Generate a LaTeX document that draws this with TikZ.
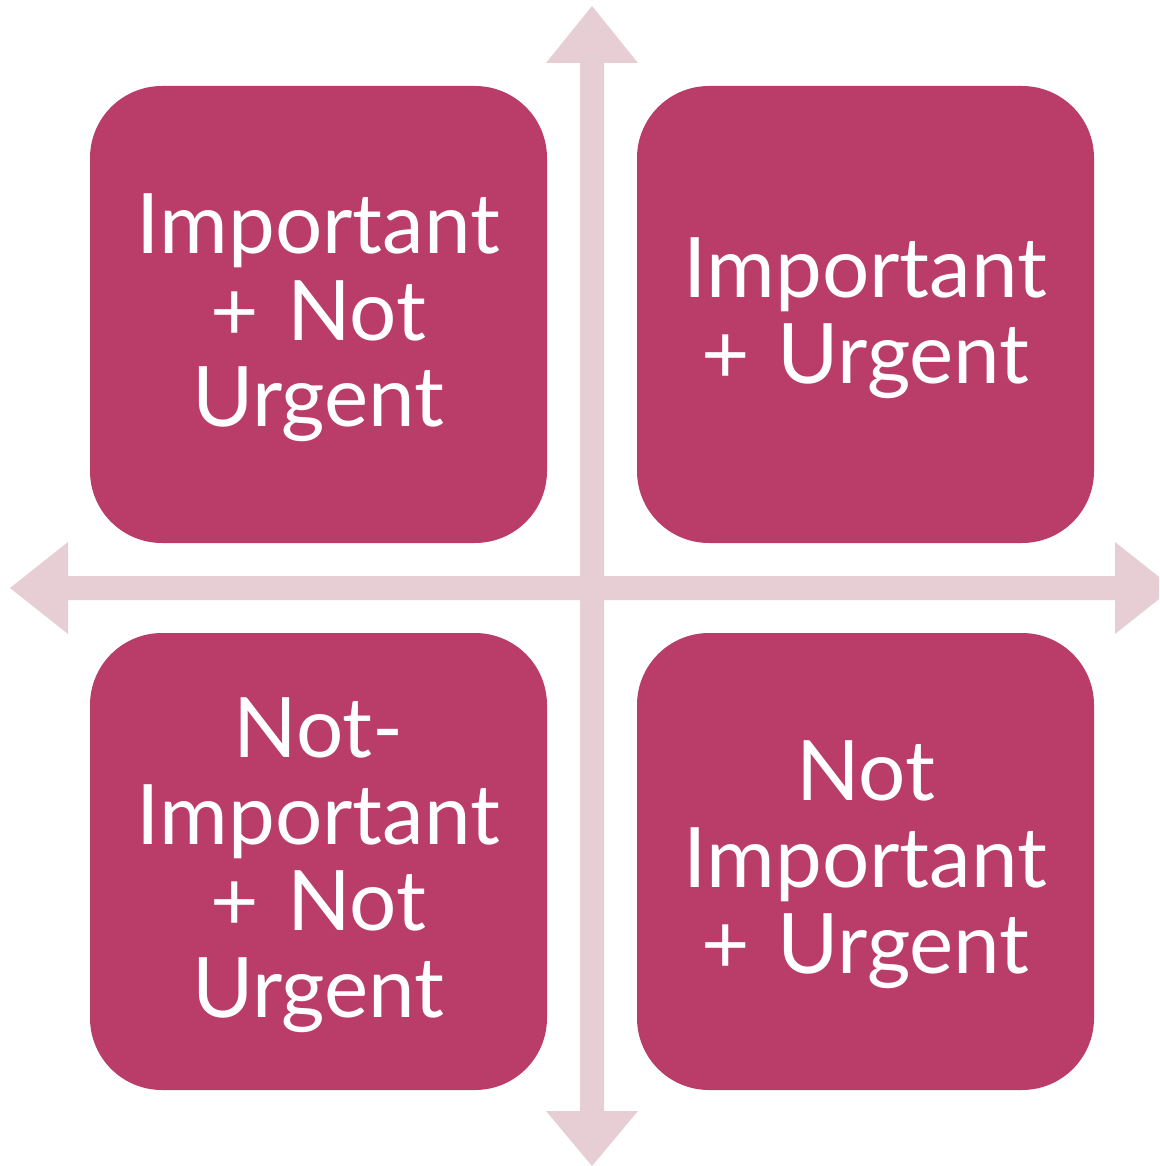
\documentclass[tikz,border=0pt]{standalone}
\usepackage{fontspec}
\setmainfont{Lato}
\definecolor{quad}{HTML}{B93D68}
\definecolor{axis}{HTML}{E7CDD4}
\begin{document}
\begin{tikzpicture}[x=1pt,y=-1pt,
  quadbox/.style={fill=quad, draw=none, rounded corners=72pt,
    minimum width=457pt, minimum height=457pt, inner sep=0pt},
  quadtext/.style={text=white, text width=440pt, align=center, inner sep=0pt,
    font=\fontsize{83.5}{86.5}\selectfont, yshift=-3.5pt},
  axisfill/.style={fill=axis, draw=none}]
\useasboundingbox (0,0) rectangle (1159,1166);
\clip (0,0) rectangle (1159,1166);

% axes: vertical and horizontal double-headed arrows
\path[axisfill] (592,6) -- (638,63) -- (604,63) -- (604,1111) -- (638,1111)
  -- (592,1166) -- (546,1111) -- (580,1111) -- (580,63) -- (546,63) -- cycle;
\path[axisfill] (10,588) -- (68,542) -- (68,576) -- (1115,576) -- (1115,542)
  -- (1173,588) -- (1115,634) -- (1115,600) -- (68,600) -- (68,634) -- cycle;

% quadrants
\node[quadbox] (tl) at (318.5,314.5) {};
\node[quadbox] (tr) at (865.5,314.5) {};
\node[quadbox] (bl) at (318.5,861.5) {};
\node[quadbox] (br) at (865.5,861.5) {};

\node[quadtext] (tltext) at (tl.center) {Important\\+ Not\\Urgent};
\node[quadtext] (trtext) at (tr.center) {Important\\+ Urgent};
\node[quadtext] (bltext) at (bl.center) {Not-\\Important\\+ Not\\Urgent};
\node[quadtext] (brtext) at (br.center) {Not\\Important\\+ Urgent};
\end{tikzpicture}
\end{document}
